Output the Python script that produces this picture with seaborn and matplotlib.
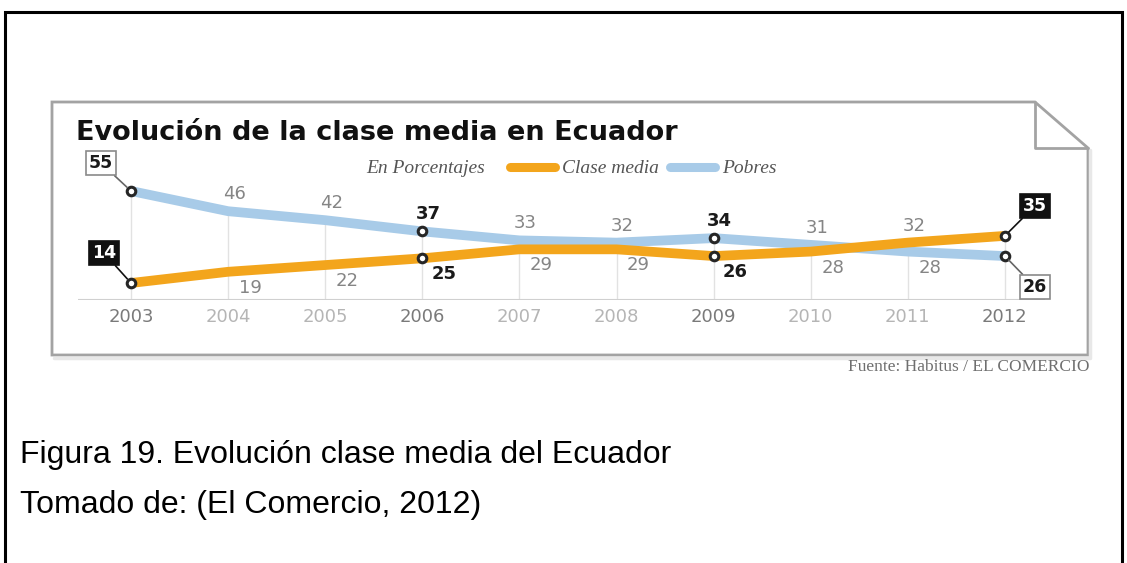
import matplotlib
matplotlib.use("Agg")
import matplotlib.pyplot as plt
import seaborn as sns
import pandas as pd
import numpy as np
from matplotlib.patches import Polygon

# ---- data ----
years = [2003, 2004, 2005, 2006, 2007, 2008, 2009, 2010, 2011, 2012]
clase_media = [14, 19, 22, 25, 29, 29, 26, 28, 32, 35]
pobres = [55, 46, 42, 37, 33, 32, 34, 31, 28, 26]
highlight_years = [2003, 2006, 2009, 2012]
series_names = ["Clase media", "Pobres"]

title_text = "Evolución de la clase media en Ecuador"
legend_lead = "En Porcentajes"
source_text = "Fuente: Habitus / EL COMERCIO"
caption_lines = ["Figura 19. Evolución clase media del Ecuador",
                 "Tomado de: (El Comercio, 2012)"]

ORANGE = "#F3A51C"
BLUE = "#A8CBE8"
GRAY_TXT = "#858585"
LIGHT_YEAR = "#b5b5b5"
DARK_YEAR = "#7a7a7a"
BOX_GRAY = "#a3a3a3"

sns.set_theme(style="white")
plt.rcParams["font.family"] = ["DejaVu Sans"]

W, H = 1127, 563
fig = plt.figure(figsize=(W / 100, H / 100), dpi=100)

# background layer in pixel coordinates (y grows downward)
bg = fig.add_axes([0, 0, 1, 1])
bg.set_xlim(0, W)
bg.set_ylim(H, 0)
bg.axis("off")

# outer frame (open at the bottom)
bg.plot([5, 5, W - 5, W - 5], [H, 12, 12, H], color="black", lw=2.2,
        solid_joinstyle="miter")

# chart card with folded corner
card_x = [52, 1035, 1088, 1088, 52, 52]
card_y = [102, 102, 148, 355, 355, 102]
bg.plot([54, 1090, 1090], [357.5, 357.5, 150], color="#e8e8e8", lw=2.5)
bg.add_patch(Polygon(list(zip(card_x, card_y)), closed=True, fc="white",
                     ec=BOX_GRAY, lw=2))
bg.plot([1035, 1035, 1088], [102, 148, 148], color=BOX_GRAY, lw=2)

# title and legend row
bg.text(76, 140, title_text, fontsize=19.5, fontweight="bold", color="#111111",
        va="baseline", ha="left")
legend_font = dict(fontsize=14, style="italic", family="Liberation Serif",
                   color="#555555", va="baseline")
bg.text(485, 173, legend_lead, ha="right", **legend_font)
bg.plot([510, 555], [167, 167], color=ORANGE, lw=6.5, solid_capstyle="round")
bg.text(562, 173, series_names[0], ha="left", **legend_font)
bg.plot([670, 715], [167, 167], color=BLUE, lw=6.5, solid_capstyle="round")
bg.text(722, 173, series_names[1], ha="left", **legend_font)

bg.text(1089, 371, source_text, fontsize=12.5, family="Liberation Serif",
        color="#6f6f6f", ha="right", va="baseline")

for i, line in enumerate(caption_lines):
    bg.text(20, 463 + 50 * i, line, fontsize=23, family="Liberation Sans",
            color="black", va="baseline", ha="left")

# ---- data axes, mapped onto the card ----
x0_px, dx_px = 131, 97.1          # pixel x of first year, pixels per year
y55_px, dy_px = 191, 2.244        # pixel y of value 55, pixels per unit
left_px, right_px = 78, 1045
base_px, top_px = 300, 150
ax = fig.add_axes([left_px / W, 1 - base_px / H,
                   (right_px - left_px) / W, (base_px - top_px) / H])
ax.set_xlim(years[0] - (x0_px - left_px) / dx_px,
            years[0] + (right_px - x0_px) / dx_px)
ax.set_ylim(55 - (base_px - y55_px) / dy_px, 55 + (y55_px - top_px) / dy_px)
ax.patch.set_alpha(0)
for s in ax.spines.values():
    s.set_visible(False)

df = pd.DataFrame({"year": years * 2,
                   "valor": clase_media + pobres,
                   "serie": [series_names[0]] * len(years) + [series_names[1]] * len(years)})

# vertical guides up to the higher series
upper = np.maximum(clase_media, pobres)
lower = np.minimum(clase_media, pobres)
ax.vlines(years, ax.get_ylim()[0], upper, color="#e2e2e2", lw=1, zorder=1)
ax.axhline(ax.get_ylim()[0], color="#d0d0d0", lw=1.5, zorder=1)

sns.lineplot(data=df, x="year", y="valor", hue="serie",
             palette={series_names[0]: ORANGE, series_names[1]: BLUE},
             hue_order=[series_names[1], series_names[0]],
             lw=7, ax=ax, legend=False, zorder=2)
for ln in ax.lines:
    ln.set_solid_joinstyle("round")
    ln.set_solid_capstyle("butt")

hl = df[df["year"].isin(highlight_years)]
ax.scatter(hl["year"], hl["valor"], s=38, facecolor="white",
           edgecolor="#262626", linewidth=2.2, zorder=4)

# value labels above and below the lines
first, last = years[0], years[-1]
for yr, up, lo in zip(years, upper, lower):
    if yr in (first, last):
        continue
    bold = yr in highlight_years
    col = "#1a1a1a" if bold else GRAY_TXT
    fw = "bold" if bold else "normal"
    ax.annotate(f"{up}", (yr, up), xytext=(6, 17),
                textcoords="offset pixels", ha="center", va="center",
                fontsize=13, fontweight=fw, color=col, zorder=5)
    ax.annotate(f"{lo}", (yr, lo), xytext=(22, -16),
                textcoords="offset pixels", ha="center", va="center",
                fontsize=13, fontweight=fw, color=col, zorder=5)

# boxed labels at both ends
def boxed(yr, val, dxy, dark):
    ax.annotate(f"{val}", (yr, val), xytext=dxy, textcoords="offset pixels",
                ha="center", va="center", fontsize=12.5, fontweight="bold",
                color="white" if dark else "#1a1a1a",
                bbox=dict(boxstyle="square,pad=0.18",
                          fc="#111111" if dark else "white",
                          ec="#111111" if dark else "#8a8a8a", lw=1.2),
                arrowprops=dict(arrowstyle="-",
                                color="#111111" if dark else "#666666",
                                lw=1.2, shrinkA=0, shrinkB=4),
                zorder=6)

boxed(first, pobres[0], (-30, 28), dark=False)
boxed(first, clase_media[0], (-27, 30), dark=True)
boxed(last, clase_media[-1], (30, 30), dark=True)
boxed(last, pobres[-1], (30, -31), dark=False)

ax.set_xticks(years)
ax.set_xticklabels([str(y) for y in years], fontsize=13)
for t, y in zip(ax.get_xticklabels(), years):
    t.set_color(DARK_YEAR if y in highlight_years else LIGHT_YEAR)
ax.tick_params(axis="x", length=0, pad=6)
ax.set_yticks([])
ax.set_xlabel("")
ax.set_ylabel("")

fig.savefig("out.png", dpi=100)
